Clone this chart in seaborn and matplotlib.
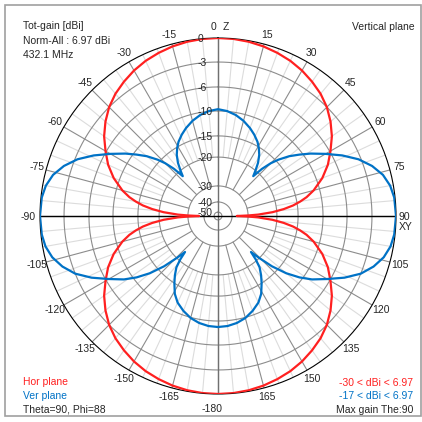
import numpy as np
import pandas as pd
import matplotlib
matplotlib.use('Agg')
import matplotlib.pyplot as plt
from matplotlib.patches import Rectangle
import seaborn as sns

# dB rings of the chart and where they sit (fraction of outer radius)
ring_db = [-50, -40, -30, -20, -15, -10, -6, -3, 0]
ring_r = [0.022, 0.079, 0.169, 0.331, 0.45, 0.59, 0.725, 0.865, 1.0]
ring_labels = ['-50', '-40', '-30', '-20', '-15', '-10', '-6', '-3', '0']

# angle labels round the rim
angle_ticks = [-165, -150, -135, -120, -105, -75, -60, -45, -30, -15,
               15, 30, 45, 60, 75, 105, 120, 135, 150, 165]

# Hor plane (red), one quadrant measured from the Z axis
hor_angle = [0, 5, 10, 15, 20, 25, 30, 35, 40, 45, 50, 55, 60, 65, 70, 75,
             78, 80, 82, 84, 86, 88, 89, 90]
hor_db = [0, -0.03, -0.13, -0.3, -0.55, -0.85, -1.25, -1.75, -2.3, -3.0, -3.85,
          -4.8, -5.9, -7.3, -9.0, -11.2, -12.9, -14.3, -16.0, -18.3, -21.5,
          -26.5, -30.0, -37.0]

# Ver plane (blue), right half from top (0) to bottom (180)
ver_angle = [0, 5, 10, 15, 20, 24, 28, 31, 34, 37, 39.5, 41.5, 43, 45, 47, 50,
             53, 56, 60, 64, 68, 72, 76, 80, 84,
             90, 96, 100, 104, 108, 112, 116, 120, 124, 127, 130, 133, 135.5,
             137.5, 139, 141, 144, 147, 151, 155, 160, 165, 170, 175, 180]
ver_db = [-9.7, -9.95, -10.5, -11.3, -12.3, -13.2, -14.2, -15.2, -16.5, -18.2,
          -20.0, -22.0, -18.7, -16.3, -14.5, -12.4, -10.6, -8.9, -6.8, -4.9,
          -3.3, -2.0, -1.0, -0.4, -0.1,
          0.0, -0.1, -0.35, -0.9, -1.8, -3.0, -4.6, -6.5, -8.6, -10.6, -13.2,
          -16.5, -20.0, -23.5, -20.5, -18.3, -16.6, -15.0, -13.2, -11.9, -10.8,
          -9.9, -9.4, -9.1, -9.0]

red = '#ff2020'
blue = '#0072c6'
grid_dark = '#8c8c8c'
grid_light = '#dcdcdc'

sns.set_style('white')
plt.rcParams['font.family'] = ['Liberation Sans', 'DejaVu Sans']
plt.rcParams['font.size'] = 7.5


def to_r(db):
    return np.interp(db, ring_db, ring_r, left=0.0)


# build full closed curves
a = np.array(hor_angle, dtype=float)
v = np.array(hor_db, dtype=float)
hor_right_a = np.concatenate([a, 180 - a[::-1][1:]])
hor_right_v = np.concatenate([v, v[::-1][1:]])
hor_full_a = np.concatenate([-hor_right_a[::-1], hor_right_a[1:]])
hor_full_v = np.concatenate([hor_right_v[::-1], hor_right_v[1:]])

va_ = np.array(ver_angle, dtype=float)
vv_ = np.array(ver_db, dtype=float)
ver_full_a = np.concatenate([-va_[::-1], va_[1:]])
ver_full_v = np.concatenate([vv_[::-1], vv_[1:]])

hor = pd.DataFrame({'theta': np.deg2rad(hor_full_a), 'r': to_r(hor_full_v)})
ver = pd.DataFrame({'theta': np.deg2rad(ver_full_a), 'r': to_r(ver_full_v)})

fig = plt.figure(figsize=(4.22, 4.22), dpi=100)
fig.patch.set_facecolor('white')
ax = fig.add_axes([40 / 422, 1 - 394 / 422, 356 / 422, 356 / 422], projection='polar')
ax.set_theta_zero_location('N')
ax.set_theta_direction(-1)
ax.set_ylim(0, 1)
ax.grid(False)
ax.spines['polar'].set_color('black')
ax.spines['polar'].set_linewidth(0.8)

# grid
full = np.linspace(0, 2 * np.pi, 721)
for r in ring_r[:-1]:
    ax.plot(full, np.full_like(full, r), color=grid_dark, lw=0.8, zorder=1)
for ang in range(0, 360, 5):
    th = np.deg2rad(ang)
    if ang % 15 == 0:
        ax.plot([th, th], [ring_r[2], 1], color=grid_dark, lw=0.8, zorder=1)
    else:
        ax.plot([th, th], [ring_r[3], 1], color=grid_light, lw=0.8, zorder=0.5)
ax.plot([0, 0], [0, 1], color='#707070', lw=1.0, zorder=1.5)
ax.plot([np.pi, np.pi], [0, 1], color='#707070', lw=1.0, zorder=1.5)
ax.plot([np.pi / 2, np.pi / 2], [0, 1], color='black', lw=1.0, zorder=1.6)
ax.plot([-np.pi / 2, -np.pi / 2], [0, 1], color='black', lw=1.0, zorder=1.6)

# patterns
sns.lineplot(data=hor, x='theta', y='r', sort=False, estimator=None,
             color=red, lw=1.6, ax=ax, zorder=3)
sns.lineplot(data=ver, x='theta', y='r', sort=False, estimator=None,
             color=blue, lw=1.6, ax=ax, zorder=3)
ax.set_xlabel('')
ax.set_ylabel('')
ax.set_xticks([])
ax.set_yticks([])
ax.set_ylim(0, 1)

# ring labels along the vertical axis
for r, lbl in zip(ring_r, ring_labels):
    ax.annotate(lbl, xy=(0, r), xytext=(-15, -1), textcoords='offset points',
                ha='left', va='center', zorder=4)

# angle labels
for ang in angle_ticks:
    ax.text(np.deg2rad(ang), 1.055, str(ang), ha='center', va='center')
ax.annotate('0', xy=(0, 1.0), xytext=(-1, 8), textcoords='offset points', ha='right', va='center')
ax.annotate('Z', xy=(0, 1.0), xytext=(3, 8), textcoords='offset points', ha='left', va='center')
ax.annotate('90', xy=(np.pi / 2, 1.0), xytext=(2, -1), textcoords='offset points', ha='left', va='center')
ax.annotate('XY', xy=(np.pi / 2, 1.0), xytext=(2, -8), textcoords='offset points', ha='left', va='center')
ax.annotate('-90', xy=(-np.pi / 2, 1.0), xytext=(-3, -1), textcoords='offset points', ha='right', va='center')
ax.annotate('-180', xy=(np.pi, 1.0), xytext=(-4, -11), textcoords='offset points', ha='center', va='center')


def px(x, y):
    return x / 422, 1 - y / 422


fig.text(*px(23, 26), 'Tot-gain [dBi]', ha='left', va='center')
fig.text(*px(23, 41), 'Norm-All : 6.97 dBi', ha='left', va='center')
fig.text(*px(23, 55), '432.1 MHz', ha='left', va='center')
fig.text(*px(415, 27), 'Vertical plane', ha='right', va='center')
fig.text(*px(23, 382), 'Hor plane', ha='left', va='center', color=red)
fig.text(*px(23, 396), 'Ver plane', ha='left', va='center', color=blue)
fig.text(*px(23, 409), 'Theta=90, Phi=88', ha='left', va='center')
fig.text(*px(413, 383), '-30 < dBi < 6.97', ha='right', va='center', color=red)
fig.text(*px(413, 396), '-17 < dBi < 6.97', ha='right', va='center', color=blue)
fig.text(*px(413, 410), 'Max gain The:90', ha='right', va='center')

fig.add_artist(Rectangle((5 / 422, 6 / 422), 416 / 422, 411 / 422, transform=fig.transFigure,
                         fill=False, edgecolor='#a0a0a0', lw=1.2))

fig.savefig('out.png', dpi=100)
